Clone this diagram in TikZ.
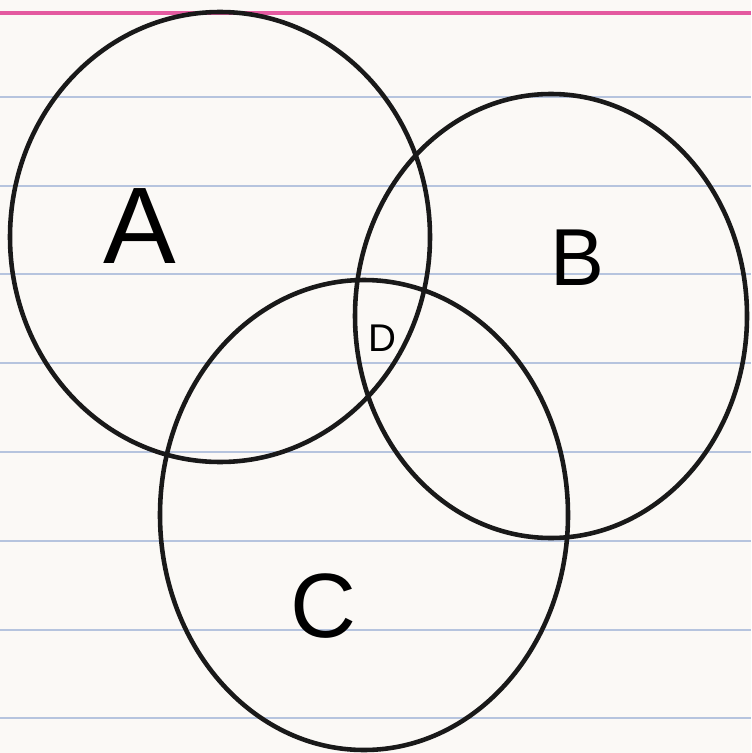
\documentclass[tikz,border=0pt]{standalone}
\usepackage{fontspec}
\setmainfont{Liberation Sans}
\usetikzlibrary{positioning}
\definecolor{paper}{RGB}{251,249,246}
\definecolor{rule}{RGB}{182,196,222}
\definecolor{margin}{RGB}{228,90,160}
\begin{document}
\begin{tikzpicture}[x=0.02cm,y=-0.02cm,
 set/.style={draw=black!90,line width=2.6pt},
 lbl/.style={inner sep=0pt,font=\fontsize{62}{62}\selectfont}]
\fill[paper] (0,0) rectangle (751,753);
\useasboundingbox (0,0) rectangle (751,753);
\draw[margin,line width=2pt] (0,13)--(751,13);
\foreach \y in {97,186,274,363,452,541,630,718}
 \draw[rule,line width=1.6pt] (0,\y)--(751,\y);
\draw[set] (220,237) ellipse[x radius=210,y radius=225];
\draw[set] (551,316) ellipse[x radius=196,y radius=222];
\draw[set] (364,515) ellipse[x radius=204,y radius=235];
\node[lbl] (a) at (140,226) {A};
\node[lbl,font=\fontsize{46}{46}\selectfont] (b) at (577,258) {B};
\node[lbl,font=\fontsize{52}{52}\selectfont] (c) at (323,606) {C};
\node[lbl,font=\fontsize{22}{22}\selectfont] (d) at (382,338) {D};
\end{tikzpicture}
\end{document}
